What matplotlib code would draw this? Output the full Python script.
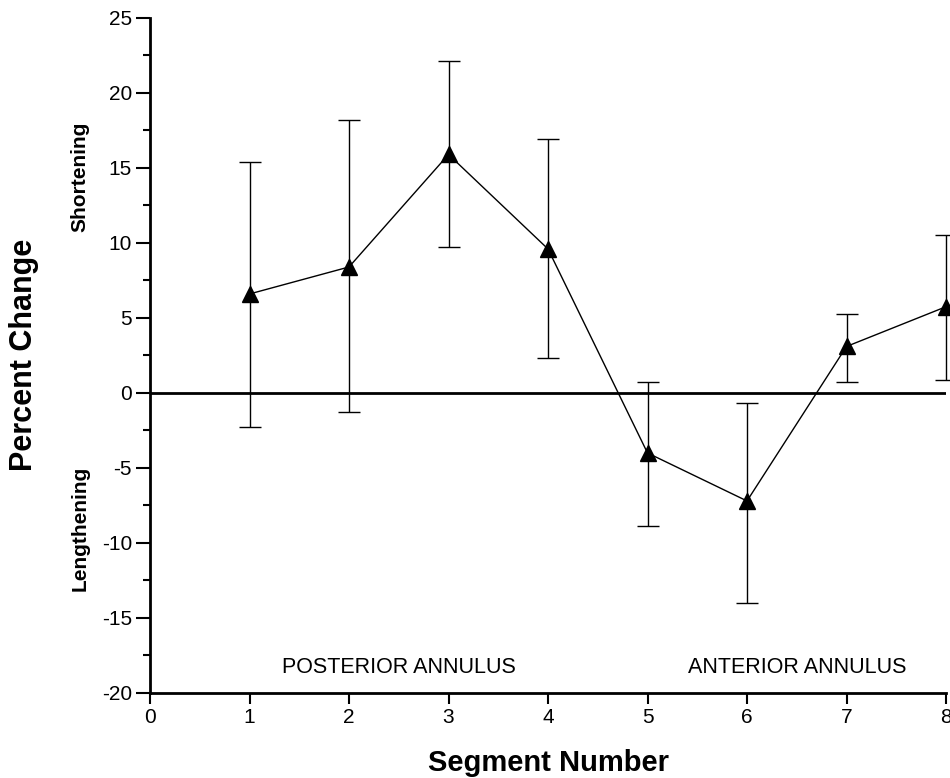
# Percent change by annular segment

import numpy as np
import matplotlib.pyplot as plt
from matplotlib.ticker import MultipleLocator

plt.rcParams['font.family'] = ['Liberation Sans', 'DejaVu Sans']
plt.rcParams['axes.unicode_minus'] = False

# Data
segments = [1, 2, 3, 4, 5, 6, 7, 8]
mean_change = [6.6, 8.4, 15.9, 9.6, -4.0, -7.2, 3.1, 5.75]
err_top = [15.4, 18.2, 22.1, 16.9, 0.7, -0.7, 5.25, 10.5]
err_bottom = [-2.3, -1.3, 9.7, 2.3, -8.9, -14.0, 0.7, 0.85]

mean_arr = np.array(mean_change)
yerr = [mean_arr - np.array(err_bottom), np.array(err_top) - mean_arr]

fig = plt.figure(figsize=(9.5, 7.78), dpi=100)
ax = fig.add_axes([0.1579, 0.1093, 0.8379, 0.8676])

# zero line
ax.axhline(0, color='black', lw=2, zorder=1)

ax.errorbar(segments, mean_change, yerr=yerr, color='black', lw=1,
            elinewidth=1, capsize=8, capthick=1, marker='^',
            markersize=11, clip_on=False, zorder=3)

ax.set_xlim(0, 8)
ax.set_ylim(-20, 25)
ax.xaxis.set_major_locator(MultipleLocator(1))
ax.yaxis.set_major_locator(MultipleLocator(5))
ax.yaxis.set_minor_locator(MultipleLocator(2.5))

for side in ['top', 'right']:
    ax.spines[side].set_visible(False)
for side in ['left', 'bottom']:
    ax.spines[side].set_linewidth(2)

ax.tick_params(axis='y', which='major', direction='out', length=10,
               width=1.5, labelsize=15, pad=3)
ax.tick_params(axis='x', which='major', direction='out', length=8,
               width=1.5, labelsize=15, pad=3)
ax.tick_params(axis='y', which='minor', direction='out', length=5, width=1.5)

# axis titles
fig.text(548 / 950, 1 - 763 / 778, 'Segment Number', fontsize=21,
         fontweight='bold', ha='center', va='center')
fig.text(24 / 950, 1 - 355 / 778, 'Percent Change', fontsize=22,
         fontweight='bold', rotation=90, ha='center', va='center')

# side labels
ax.text(-0.7, 14.4, 'Shortening', rotation=90, fontsize=15, fontweight='bold',
        ha='center', va='center', clip_on=False)
ax.text(-0.7, -9.0, 'Lengthening', rotation=90, fontsize=15, fontweight='bold',
        ha='center', va='center', clip_on=False)

# region labels
ax.text(2.5, -18.3, 'POSTERIOR ANNULUS', fontsize=15.5, ha='center', va='center')
ax.text(6.5, -18.3, 'ANTERIOR ANNULUS', fontsize=15.5, ha='center', va='center')

fig.savefig('out.png', dpi=100)
